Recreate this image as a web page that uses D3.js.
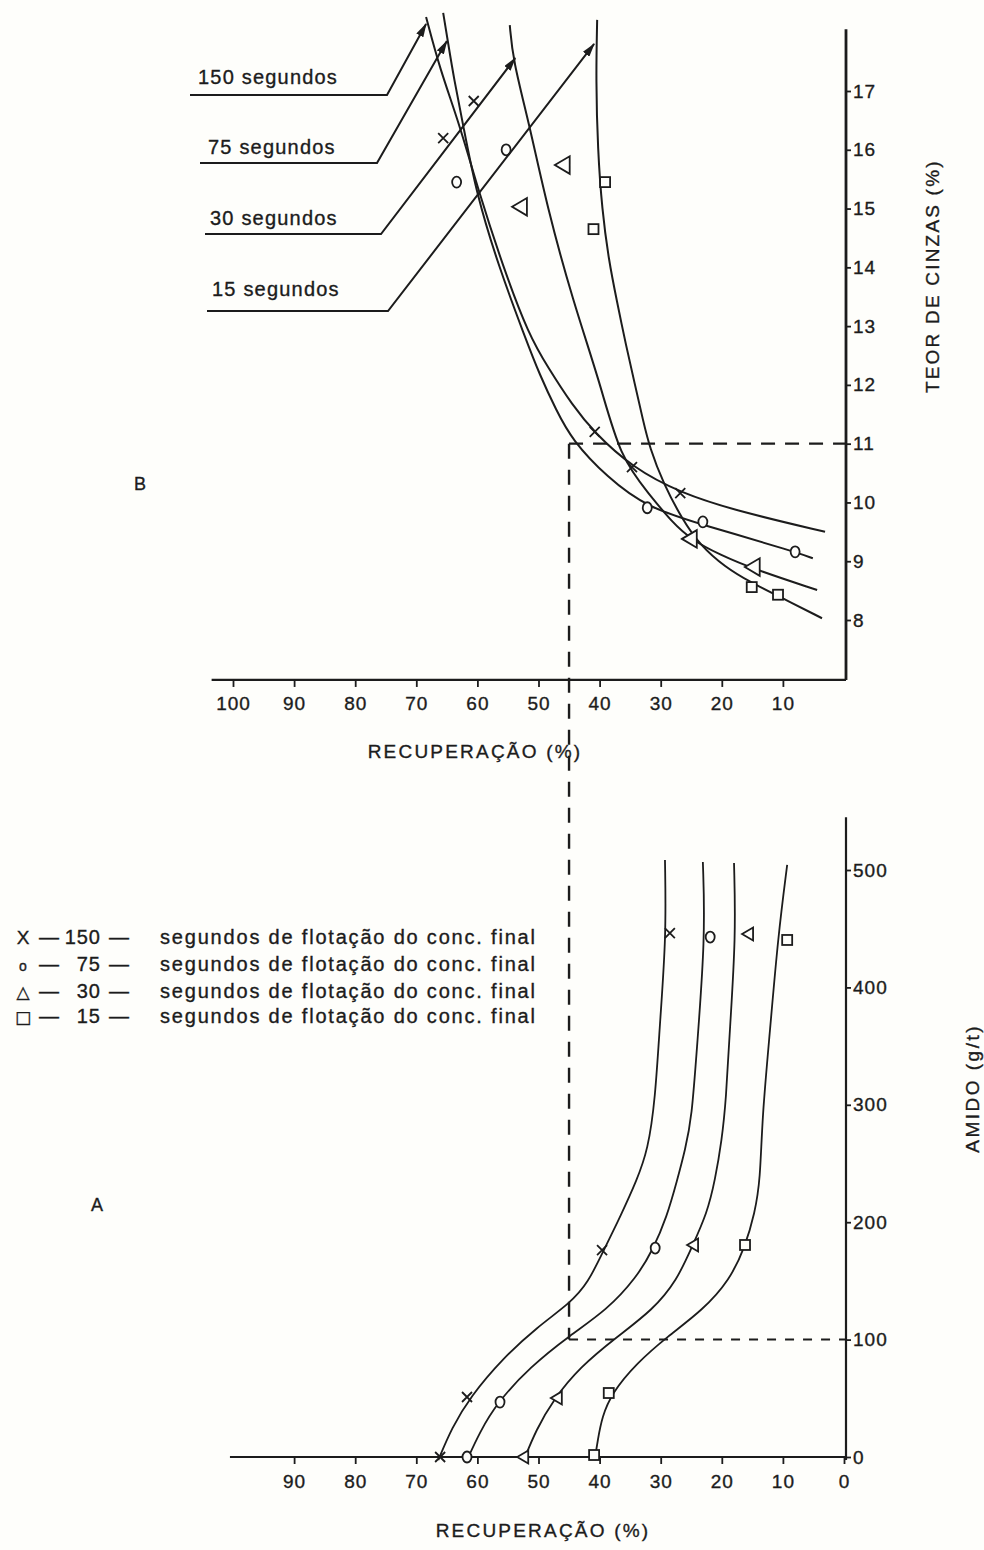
<!DOCTYPE html>
<html>
<head>
<meta charset="utf-8">
<script src="https://cdn.jsdelivr.net/npm/d3@7"></script>
<style>
  html, body { margin: 0; padding: 0; background: #fefefb; }
  svg { display: block; }
  text { font-family: "Liberation Sans", Arial, sans-serif; fill: #1c1c1c; stroke: #1c1c1c; stroke-width: 0.35px; }
</style>
</head>
<body>
<svg id="chart" width="984" height="1550"></svg>
<script>
'use strict';

// Tick values.
const recoveryTicksB = [100, 90, 80, 70, 60, 50, 40, 30, 20, 10];
const recoveryTicksA = [90, 80, 70, 60, 50, 40, 30, 20, 10, 0];
const ashTicks = [8, 9, 10, 11, 12, 13, 14, 15, 16, 17];
const amidoTicks = [0, 100, 200, 300, 400, 500];

// Flotation times of the final concentrate (s) and the marker used for each.
const flotationTimes = ['150', '75', '30', '15'];
const markerKinds = ['x', 'o', 'tri', 'sq'];
const legendSymbols = ['X', 'o', '\u25B3', '\u25A1'];

// Panel B: fitted curves, [recuperação %, teor de cinzas %].
const ashCurve150 = [[68.4, 18.26], [66.1, 17.36], [63.0, 16.46], [59.7, 15.26], [55.8, 14.01], [51.6, 12.85],
  [48.4, 12.29], [44.5, 11.66], [40.8, 11.18], [34.7, 10.60], [26.8, 10.16], [17.0, 9.84], [3.1, 9.50]];
const ashCurve75 = [[65.6, 18.33], [64.8, 17.82], [63.8, 17.19], [62.4, 16.46], [60.2, 15.26], [56.5, 14.01],
  [52.2, 12.81], [49.8, 12.17], [47.1, 11.57], [44.5, 11.06], [38.8, 10.43], [32.2, 9.91], [23.1, 9.62],
  [8.0, 9.16], [5.1, 9.05]];
const ashCurve30 = [[54.7, 18.12], [54.2, 17.53], [51.4, 16.39], [48.6, 15.03], [44.4, 13.44], [39.9, 12.03],
  [36.7, 10.77], [31.8, 10.13], [28.2, 9.67], [24.9, 9.36], [20.3, 9.11], [14.9, 8.87], [4.4, 8.51]];
const ashCurve15 = [[40.4, 18.21], [40.6, 17.19], [40.3, 16.00], [39.6, 14.98], [38.5, 14.12], [37.2, 13.44],
  [35.7, 12.68], [34.2, 12.00], [32.9, 11.40], [31.8, 10.93], [29.6, 10.33], [26.4, 9.70], [23.6, 9.28],
  [19.5, 8.90], [15.1, 8.63], [10.8, 8.41], [3.6, 8.03]];

// Panel B: measured points.
const ashPoints150 = [[65.6, 16.20], [60.6, 16.83], [40.8, 11.20], [34.7, 10.60], [26.8, 10.16]];
const ashPoints75 = [[63.4, 15.45], [55.3, 16.00], [32.2, 9.91], [23.1, 9.67], [8.0, 9.16]];
const ashPoints30 = [[53.0, 15.03], [46.0, 15.74], [25.2, 9.38], [14.9, 8.90]];
const ashPoints15 = [[39.1, 15.45], [41.0, 14.65], [15.1, 8.56], [10.8, 8.43]];

// Panel A: fitted curves, [recuperação %, amido g/t].
const amidoCurve150 = [[66.4, -2.6], [64.2, 24.7], [61.2, 51.1], [55.8, 84.3], [50.2, 110.7], [44.8, 131.2],
  [41.9, 148.2], [39.3, 176.3], [36.5, 206.1], [33.9, 235.9], [32.1, 261.5], [30.9, 304.1], [30.1, 372.2],
  [29.1, 442.9], [29.3, 508.5]];
const amidoCurve75 = [[61.7, -2.6], [59.6, 21.3], [56.8, 46.0], [51.4, 76.7], [44.8, 103.9], [38.8, 125.2],
  [33.9, 153.3], [31.3, 176.3], [29.0, 204.4], [27.3, 235.9], [26.0, 261.5], [24.9, 289.6], [24.1, 346.7],
  [22.7, 442.9], [23.1, 506.8]];
const amidoCurve30 = [[52.4, -2.6], [50.4, 23.0], [47.6, 48.6], [43.2, 76.7], [37.2, 102.2], [31.3, 125.2],
  [27.3, 150.8], [24.9, 178.9], [22.4, 207.8], [21.1, 235.9], [20.0, 270.0], [19.3, 304.1], [18.7, 363.7],
  [17.7, 442.9], [18.0, 506.0]];
const amidoCurve15 = [[40.8, -2.6], [40.3, 14.5], [39.6, 34.1], [38.0, 54.5], [33.9, 80.1], [29.0, 102.2],
  [23.1, 125.2], [18.7, 150.8], [16.2, 178.9], [14.6, 207.8], [13.7, 235.9], [13.4, 289.6], [12.1, 363.7],
  [10.8, 442.9], [9.3, 504.3]];

// Panel A: measured points.
const amidoPoints150 = [[66.1, 0], [61.7, 51.1], [39.6, 176.3], [28.5, 446.3]];
const amidoPoints75 = [[61.7, 0], [56.3, 46.8], [30.9, 178.0], [21.9, 442.9]];
const amidoPoints30 = [[52.5, 0], [47.0, 50.3], [24.7, 180.6], [15.7, 445.5]];
const amidoPoints15 = [[40.9, 1.7], [38.5, 54.5], [16.2, 180.6], [9.3, 440.4]];

// Dashed reading: 11 % ash -> 45 % recovery -> 100 g/t of starch.
const guideAsh = 11;
const guideRecovery = 45;
const guideAmido = 100;

// Where the label arrows of panel B touch their curve, [recuperação, cinzas].
const arrowTips = [[68.4, 18.14], [65.0, 17.85], [53.8, 17.56], [40.9, 17.80]];

const ashCurves = [ashCurve150, ashCurve75, ashCurve30, ashCurve15];
const ashPoints = [ashPoints150, ashPoints75, ashPoints30, ashPoints15];
const amidoCurves = [amidoCurve150, amidoCurve75, amidoCurve30, amidoCurve15];
const amidoPoints = [amidoPoints150, amidoPoints75, amidoPoints30, amidoPoints15];

const ink = '#1c1c1c';
const paper = '#fefefb';
const font = '"Liberation Sans", Arial, sans-serif';

const svg = d3.select('#chart');

// Both panels share the recovery scale, running right to left.
const x = d3.scaleLinear().domain([100, 0]).range([233, 844]);
const yB = d3.scaleLinear().domain([8, 17]).range([620, 91]);
const yA = d3.scaleLinear().domain([0, 500]).range([1457, 870]);
const rightX = x(0) + 2;

// Frame extents in data units.
const frameB = { left: 103.5, top: 18.05, bottom: 6.98 };
const frameA = { left: 100.5, top: 545, bottom: -2.5 };

function styleAxis(g, size) {
  g.select('.domain').remove();
  g.selectAll('line').attr('stroke', ink).attr('stroke-width', 1.8);
  g.selectAll('text')
    .attr('fill', ink)
    .style('font-family', font)
    .style('font-size', size + 'px')
    .style('letter-spacing', '1px');
}

function drawMarker(sel, kind, px, py, s) {
  const g = sel.append('g')
    .attr('transform', `translate(${px},${py})`)
    .attr('fill', 'none')
    .attr('stroke', ink)
    .attr('stroke-width', 1.8);
  if (kind === 'x') {
    g.append('path').attr('d', `M${-5 * s},${-5 * s}L${5 * s},${5 * s}M${-5 * s},${5 * s}L${5 * s},${-5 * s}`);
  } else if (kind === 'o') {
    g.append('ellipse').attr('rx', 4.5 * s).attr('ry', 5.5 * s).attr('fill', paper);
  } else if (kind === 'tri') {
    g.append('path')
      .attr('d', `M${-6 * s},0L${5 * s},${-6.5 * s}L${5 * s},${6.5 * s}Z`)
      .attr('fill', paper);
  } else {
    g.append('rect')
      .attr('x', -5 * s).attr('y', -5 * s)
      .attr('width', 10 * s).attr('height', 10 * s)
      .attr('fill', paper);
  }
}

// ---------- Panel B: teor de cinzas ----------
const gB = svg.append('g').attr('class', 'panel-b');

gB.append('line')
  .attr('x1', x(frameB.left)).attr('x2', rightX)
  .attr('y1', yB(frameB.bottom)).attr('y2', yB(frameB.bottom))
  .attr('stroke', ink).attr('stroke-width', 2.2);
gB.append('line')
  .attr('x1', rightX).attr('x2', rightX)
  .attr('y1', yB(frameB.top)).attr('y2', yB(frameB.bottom))
  .attr('stroke', ink).attr('stroke-width', 2.8);

gB.append('g')
  .attr('transform', `translate(0,${yB(frameB.bottom)})`)
  .call(d3.axisBottom(x).tickValues(recoveryTicksB).tickSize(7).tickPadding(10))
  .call(g => styleAxis(g, 19));

gB.append('g')
  .attr('transform', `translate(${rightX},0)`)
  .call(d3.axisRight(yB).tickValues(ashTicks).tickSize(5).tickPadding(2))
  .call(g => styleAxis(g, 19));

// Hand-drawn fits: a B-spline through the read points smooths out reading noise.
const lineB = d3.line()
  .x(d => x(d[0]))
  .y(d => yB(d[1]))
  .curve(d3.curveBasis);

gB.append('g').selectAll('path')
  .data(ashCurves)
  .join('path')
  .attr('d', lineB)
  .attr('fill', 'none')
  .attr('stroke', ink)
  .attr('stroke-width', 2);

ashPoints.forEach((pts, i) => {
  const s = markerKinds[i] === 'tri' ? 1.35 : 1;
  pts.forEach(p => drawMarker(gB, markerKinds[i], x(p[0]), yB(p[1]), s));
});

// Labels with leader arrows pointing at the top of each curve.
const labelBaselines = [84, 154, 225, 296];
const labelLeft = [198, 208, 210, 212];
const underlineY = [95, 163, 234, 311];
const underlineX = [[190, 387], [200, 377], [205, 381], [207, 388]];

svg.append('defs').append('marker')
  .attr('id', 'arrow')
  .attr('viewBox', '0 0 14 8')
  .attr('refX', 13).attr('refY', 4)
  .attr('markerWidth', 7).attr('markerHeight', 4)
  .attr('markerUnits', 'strokeWidth')
  .attr('orient', 'auto')
  .append('path')
  .attr('d', 'M0,0L14,4L0,8Z')
  .attr('fill', ink);

flotationTimes.forEach((t, i) => {
  gB.append('text')
    .attr('x', labelLeft[i])
    .attr('y', labelBaselines[i])
    .style('font-size', '20px')
    .style('letter-spacing', '1.2px')
    .text(`${t} segundos`);

  const tip = arrowTips[i];
  gB.append('path')
    .attr('d', d3.line()([
      [underlineX[i][0], underlineY[i]],
      [underlineX[i][1], underlineY[i]],
      [x(tip[0]), yB(tip[1])]
    ]))
    .attr('fill', 'none')
    .attr('stroke', ink)
    .attr('stroke-width', 2)
    .attr('marker-end', 'url(#arrow)');
});

gB.append('text')
  .attr('x', 475)
  .attr('y', 758)
  .attr('text-anchor', 'middle')
  .style('font-size', '19px')
  .style('letter-spacing', '2.2px')
  .text('RECUPERAÇÃO (%)');

gB.append('text')
  .attr('transform', `translate(939,${yB(13.85)}) rotate(-90)`)
  .attr('text-anchor', 'middle')
  .style('font-size', '19px')
  .style('letter-spacing', '2.2px')
  .text('TEOR DE CINZAS (%)');

gB.append('text')
  .attr('x', 140).attr('y', 490)
  .attr('text-anchor', 'middle')
  .style('font-size', '18px')
  .text('B');

// ---------- Panel A: amido ----------
const gA = svg.append('g').attr('class', 'panel-a');

gA.append('line')
  .attr('x1', x(frameA.left)).attr('x2', rightX)
  .attr('y1', yA(0)).attr('y2', yA(0))
  .attr('stroke', ink).attr('stroke-width', 2.2);
gA.append('line')
  .attr('x1', rightX).attr('x2', rightX)
  .attr('y1', yA(frameA.top)).attr('y2', yA(frameA.bottom))
  .attr('stroke', ink).attr('stroke-width', 2.2);

gA.append('g')
  .attr('transform', `translate(0,${yA(0)})`)
  .call(d3.axisBottom(x).tickValues(recoveryTicksA).tickSize(7).tickPadding(11))
  .call(g => styleAxis(g, 19));

gA.append('g')
  .attr('transform', `translate(${rightX},0)`)
  .call(d3.axisRight(yA).tickValues(amidoTicks).tickSize(5).tickPadding(2))
  .call(g => styleAxis(g, 19));

const lineA = d3.line()
  .x(d => x(d[0]))
  .y(d => yA(d[1]))
  .curve(d3.curveBasis);

gA.append('g').selectAll('path')
  .data(amidoCurves)
  .join('path')
  .attr('d', lineA)
  .attr('fill', 'none')
  .attr('stroke', ink)
  .attr('stroke-width', 1.8);

amidoPoints.forEach((pts, i) => {
  pts.forEach(p => drawMarker(gA, markerKinds[i], x(p[0]), yA(p[1]), 1));
});

gA.append('text')
  .attr('x', 543)
  .attr('y', 1537)
  .attr('text-anchor', 'middle')
  .style('font-size', '19px')
  .style('letter-spacing', '2.2px')
  .text('RECUPERAÇÃO (%)');

gA.append('text')
  .attr('transform', `translate(979,${yA(314)}) rotate(-90)`)
  .attr('text-anchor', 'middle')
  .style('font-size', '19px')
  .style('letter-spacing', '2.5px')
  .text('AMIDO (g/t)');

gA.append('text')
  .attr('x', 97).attr('y', 1211)
  .attr('text-anchor', 'middle')
  .style('font-size', '18px')
  .text('A');

// Legend of panel A.
const legendRows = [944, 971, 998, 1023];
flotationTimes.forEach((t, i) => {
  const row = gA.append('g').attr('transform', `translate(0,${legendRows[i]})`)
    .style('font-size', '20px');
  row.append('text').attr('x', 23).attr('text-anchor', 'middle')
    .style('font-family', i > 1 ? '"DejaVu Sans", sans-serif' : font)
    .style('font-size', i === 1 ? '14px' : (i > 1 ? '17px' : '19px'))
    .text(legendSymbols[i]);
  row.append('text').attr('x', 49).attr('text-anchor', 'middle').text('\u2014');
  row.append('text').attr('x', 101).attr('text-anchor', 'end').style('letter-spacing', '1px').text(t);
  row.append('text').attr('x', 119).attr('text-anchor', 'middle').text('\u2014');
  row.append('text').attr('x', 160)
    .attr('textLength', 375).attr('lengthAdjust', 'spacing')
    .text('segundos de flotação do conc. final');
});

// ---------- Dashed guide linking the two panels ----------
const guide = svg.append('g')
  .attr('fill', 'none')
  .attr('stroke', ink)
  .attr('stroke-width', 2.4);

guide.append('line')
  .attr('x1', x(guideRecovery)).attr('x2', rightX)
  .attr('y1', yB(guideAsh)).attr('y2', yB(guideAsh))
  .attr('stroke-dasharray', '14,10');
guide.append('line')
  .attr('x1', x(guideRecovery)).attr('x2', x(guideRecovery))
  .attr('y1', yB(guideAsh)).attr('y2', yA(guideAmido))
  .attr('stroke-dasharray', '15,11');
guide.append('line')
  .attr('x1', x(guideRecovery)).attr('x2', rightX)
  .attr('y1', yA(guideAmido)).attr('y2', yA(guideAmido))
  .attr('stroke-width', 2)
  .attr('stroke-dasharray', '9,9');
</script>
</body>
</html>
